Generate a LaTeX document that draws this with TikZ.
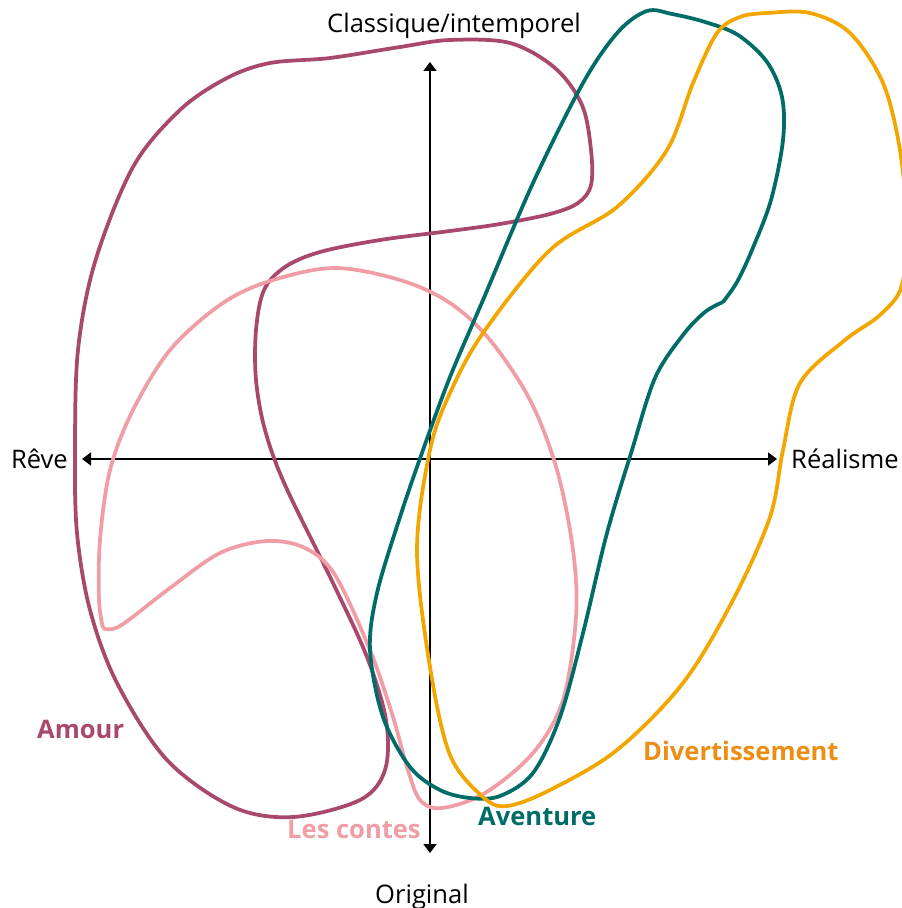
\documentclass[tikz,border=0pt]{standalone}
\usepackage{fontspec}
\setmainfont{Open Sans}
\usetikzlibrary{arrows.meta}

\definecolor{amourcol}{RGB}{168,72,108}
\definecolor{contecol}{RGB}{240,157,166}
\definecolor{aventcol}{RGB}{0,108,104}
\definecolor{divcol}{RGB}{243,166,0}
\definecolor{divtxt}{RGB}{236,141,20}

\begin{document}
\begin{tikzpicture}[x=0.03cm, y=-0.03cm,
	every node/.style={font=\fontsize{21.8}{26}\selectfont, inner sep=0pt},
	axis/.style={{Triangle[length=0.27cm,width=0.39cm]}-{Triangle[length=0.27cm,width=0.39cm]}, line width=1.6pt},
	zone/.style={line width=3.2pt, line join=round},
	tag/.style={font=\fontsize{21.8}{26}\selectfont\bfseries}]
	\useasboundingbox (0,0) rectangle (901,908);
	
	% Axes
	\coordinate (ytop) at (430,62);
	\coordinate (ybot) at (430,853);
	\coordinate (xleft) at (82,459);
	\coordinate (xright) at (777,459);
	\draw[axis] (ybot) -- (ytop);
	\draw[axis] (xleft) -- (xright);
	\node[anchor=base] (classique) at (454,33) {Classique/intemporel};
	\node[anchor=base] (original) at (422,903) {Original};
	\node[anchor=base east] (reve) at (68,468) {Rêve};
	\node[anchor=base west] (realisme) at (791,468) {Réalisme};
	
	% --- AMOUR ---
	\draw[zone, amourcol] plot[smooth cycle, tension=0.55] coordinates {
		(227,78) (270,63) (330,58) (400,47) (450,40) (510,43) (555,68) (582,105)
		(591,150) (591,185) (578,203) (550,214) (500,224) (450,231) (380,240)
		(320,252) (285,267) (264,290) (256,330) (256,380) (265,430) (285,485)
		(333,583) (367,657) (386,720) (385,770) (360,800) (293,817) (233,807)
		(167,760) (117,683) (90,610) (77,533) (75,450) (78,350) (95,262)
		(133,167) (180,110)};
	\node[tag, amourcol, anchor=base west] (amour) at (37,738) {Amour};
	
	% --- LES CONTES ---
	\draw[zone, contecol] plot[smooth, tension=0.55] coordinates {
		(103,628) (120,626) (170,588) (220,553) (267,541) (305,548) (335,575)
		(370,650) (393,717) (407,767) (420,800) (442,808) (485,793) (533,753)
		(563,700) (576,617) (573,550) (557,470) (530,400) (490,340) (450,303)
		(400,280) (333,268) (267,282) (220,305) (170,350) (133,410) (110,470)
		(100,540) (99,600) (103,628)};
	\node[tag, contecol, anchor=base west] (contes) at (287,838) {Les contes};
	
	% --- AVENTURE ---
	\draw[zone, aventcol] plot[smooth, tension=0.55] coordinates {
		(723,302) (705,312) (683,335) (655,378) (632,450) (607,533) (583,633)
		(560,717) (533,773) (500,796) (470,798) (440,790) (410,767) (383,717)
		(370,650) (377,593) (400,517) (423,450) (450,377) (483,300) (533,183)
		(583,83) (618,32) (647,11) (672,14) (705,22) (738,35) (767,62)
		(782,97) (783,140) (771,200) (752,250) (737,282) (723,302)};
	\node[tag, aventcol, anchor=base west] (aventure) at (478,825) {Aventure};
	
	% --- DIVERTISSEMENT ---
	\draw[zone, divcol] plot[smooth cycle, tension=0.55] coordinates {
		(767,13) (810,13) (850,33) (883,83) (900,150) (906,220) (902,285)
		(880,315) (845,340) (800,383) (783,450) (770,517) (733,600) (683,683)
		(617,750) (550,790) (507,806) (483,797) (450,755) (430,667) (417,550)
		(430,450) (450,393) (483,333) (550,250) (617,207) (667,150) (693,83)
		(717,33) (740,17)};
	\node[tag, divtxt, anchor=base west] (divert) at (643,760) {Divertissement};
\end{tikzpicture}
\end{document}
